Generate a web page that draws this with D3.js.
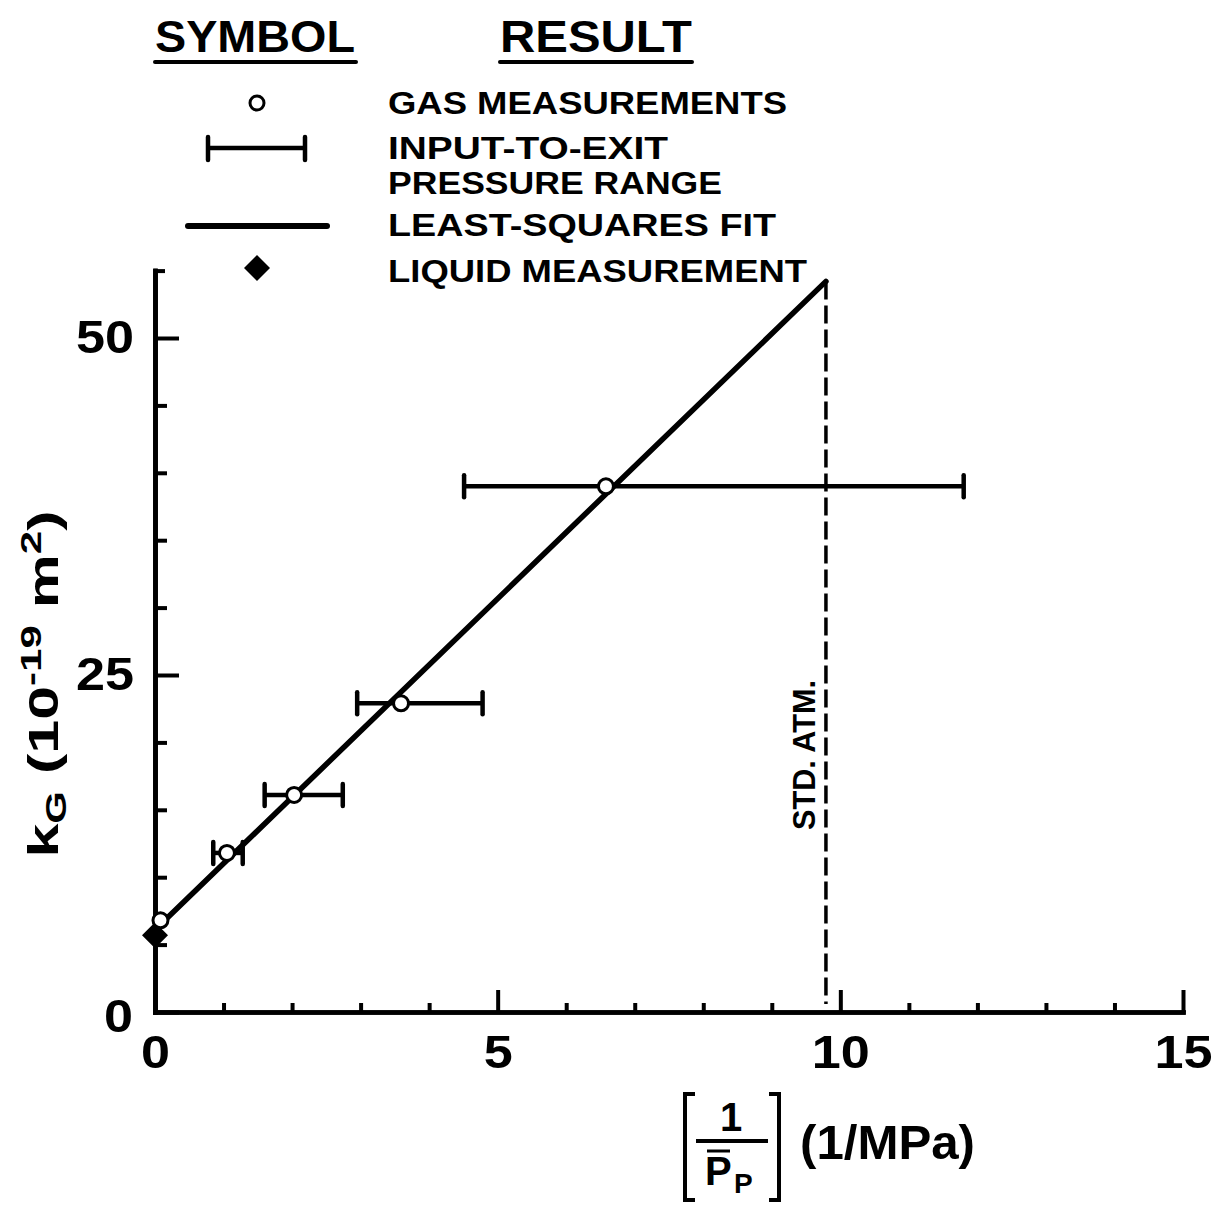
<!DOCTYPE html>
<html>
<head>
<meta charset="utf-8">
<script src="https://cdn.jsdelivr.net/npm/d3@7"></script>
<style>
  body { margin: 0; background: #fff; }
  svg text { font-family: "Liberation Sans", Arial, Helvetica, sans-serif; font-weight: bold; fill: #000; }
</style>
</head>
<body>
<div id="chart"></div>
<script>
// values
var xMajorTicks = [0, 5, 10, 15];
var xMinorTicks = [1, 2, 3, 4, 6, 7, 8, 9, 11, 12, 13, 14];
var yMajorTicks = [0, 25, 50];
var yMinorTicks = [5, 10, 15, 20, 30, 35, 40, 45];
var yTopTick = [55];

var gasX = [0.08, 1.05, 2.03, 3.59, 6.58];
var gasY = [6.8, 11.8, 16.1, 22.9, 39.0];
var rangeLo = [null, 0.85, 1.60, 2.95, 4.51];
var rangeHi = [null, 1.28, 2.74, 4.78, 11.80];

var liquidX = [0];
var liquidY = [5.7];

var fitX = [0, 9.79];
var fitY = [6.1, 54.2];

var stdAtmX = 9.79;

var legendLabels = ["GAS MEASUREMENTS", "INPUT-TO-EXIT", "PRESSURE RANGE", "LEAST-SQUARES FIT", "LIQUID MEASUREMENT"];

var width = 1214, height = 1205;
var svg = d3.select("#chart").append("svg")
	.attr("width", width)
	.attr("height", height);
svg.append("rect").attr("width", width).attr("height", height).attr("fill", "#fff");

var x = d3.scaleLinear().domain([0, 15]).range([155, 1183]);
var y = d3.scaleLinear().domain([0, 55]).range([1012, 270.6]);

// ---- axes ----
var xAxisG = svg.append("g").attr("transform", "translate(0," + y(0) + ")");
xAxisG.call(d3.axisBottom(x).tickValues(xMinorTicks).tickSize(-9).tickSizeOuter(0).tickFormat(""));
xAxisG.append("g").call(d3.axisBottom(x).tickValues(xMajorTicks).tickSize(-22).tickSizeOuter(0).tickPadding(23).tickFormat(d3.format("d")));

var yAxisG = svg.append("g").attr("transform", "translate(" + x(0) + ",0)");
yAxisG.call(d3.axisLeft(y).tickValues(yMinorTicks).tickSize(-12).tickSizeOuter(0).tickFormat(""));
yAxisG.append("g").call(d3.axisLeft(y).tickValues(yMajorTicks).tickSize(-24).tickSizeOuter(0).tickPadding(21).tickFormat(d3.format("d")));
yAxisG.append("g").call(d3.axisLeft(y).tickValues(yTopTick).tickSize(-10).tickSizeOuter(0).tickFormat(""));

svg.selectAll(".domain").attr("stroke", "#000").attr("stroke-width", 4.5).attr("stroke-linecap", "square");
svg.selectAll(".tick line").attr("stroke", "#000").attr("stroke-width", 4);
svg.selectAll(".tick text")
	.style("font-size", "46px").style("font-family", "Liberation Sans, Arial, sans-serif").style("font-weight", "bold")
	.attr("fill", "#000")
	.attr("textLength", function(d) { return String(d).length * 29; })
	.attr("lengthAdjust", "spacingAndGlyphs");
// the y-axis zero sits a bit lower and further left
yAxisG.selectAll(".tick text").filter(function(d) { return d === 0; }).attr("dy", "0.42em").attr("x", -22);

// ---- std atm dashed line ----
svg.append("line")
	.attr("x1", x(stdAtmX)).attr("x2", x(stdAtmX))
	.attr("y1", y(fitY[1])).attr("y2", y(0) - 8)
	.attr("stroke", "#000").attr("stroke-width", 3.5)
	.attr("stroke-dasharray", "18,6");

svg.append("text")
	.attr("transform", "translate(" + (x(stdAtmX) - 11) + "," + 755 + ") rotate(-90)")
	.attr("text-anchor", "middle")
	.attr("textLength", 150).attr("lengthAdjust", "spacingAndGlyphs")
	.style("font-size", "31px")
	.text("STD. ATM.");

// ---- least-squares fit ----
var fitData = d3.range(fitX.length).map(function(i) { return [fitX[i], fitY[i]]; });
svg.append("path")
	.datum(fitData)
	.attr("d", d3.line().x(function(d) { return x(d[0]); }).y(function(d) { return y(d[1]); }))
	.attr("stroke", "#000").attr("stroke-width", 5.5).attr("fill", "none").attr("stroke-linecap", "round");

// ---- pressure range bars ----
var bars = d3.range(gasX.length).filter(function(i) { return rangeLo[i] != null; });
svg.selectAll(".rangebar")
	.data(bars).enter().append("line")
	.attr("class", "rangebar")
	.attr("x1", function(i) { return x(rangeLo[i]); })
	.attr("x2", function(i) { return x(rangeHi[i]); })
	.attr("y1", function(i) { return y(gasY[i]); })
	.attr("y2", function(i) { return y(gasY[i]); })
	.attr("stroke", "#000").attr("stroke-width", 4.5);
var caps = [];
bars.forEach(function(i) { caps.push([rangeLo[i], gasY[i]]); caps.push([rangeHi[i], gasY[i]]); });
svg.selectAll(".cap")
	.data(caps).enter().append("line")
	.attr("class", "cap")
	.attr("x1", function(d) { return x(d[0]); })
	.attr("x2", function(d) { return x(d[0]); })
	.attr("y1", function(d) { return y(d[1]) - 11; })
	.attr("y2", function(d) { return y(d[1]) + 11; })
	.attr("stroke", "#000").attr("stroke-width", 4.5).attr("stroke-linecap", "round");

// ---- liquid measurement ----
svg.selectAll(".liquid")
	.data(d3.range(liquidX.length)).enter().append("path")
	.attr("class", "liquid")
	.attr("transform", function(i) { return "translate(" + x(liquidX[i]) + "," + y(liquidY[i]) + ")"; })
	.attr("d", "M0,-13L13,0L0,13L-13,0Z")
	.attr("fill", "#000");

// ---- gas measurements ----
svg.selectAll(".gas")
	.data(d3.range(gasX.length)).enter().append("circle")
	.attr("class", "gas")
	.attr("cx", function(i) { return x(gasX[i]); })
	.attr("cy", function(i) { return y(gasY[i]); })
	.attr("r", 7.5)
	.attr("fill", "#fff").attr("stroke", "#000").attr("stroke-width", 3);

// ---- legend ----
var leg = svg.append("g");
leg.append("text").attr("x", 155).attr("y", 52).attr("textLength", 200).attr("lengthAdjust", "spacingAndGlyphs")
	.style("font-size", "45px").text("SYMBOL");
leg.append("text").attr("x", 500).attr("y", 52).attr("textLength", 192).attr("lengthAdjust", "spacingAndGlyphs")
	.style("font-size", "45px").text("RESULT");
leg.append("line").attr("x1", 155).attr("x2", 356).attr("y1", 62).attr("y2", 62).attr("stroke", "#000").attr("stroke-width", 4).attr("stroke-linecap", "round");
leg.append("line").attr("x1", 500).attr("x2", 692).attr("y1", 62).attr("y2", 62).attr("stroke", "#000").attr("stroke-width", 4).attr("stroke-linecap", "round");

var labelY = [114, 159, 194, 236, 282];
var labelW = [399, 280, 334, 388, 419];
leg.selectAll(".leglabel")
	.data(legendLabels).enter().append("text")
	.attr("class", "leglabel")
	.attr("x", 388)
	.attr("y", function(d, i) { return labelY[i]; })
	.attr("textLength", function(d, i) { return labelW[i]; })
	.attr("lengthAdjust", "spacingAndGlyphs")
	.style("font-size", "32px")
	.text(function(d) { return d; });

leg.append("circle").attr("cx", 257).attr("cy", 103).attr("r", 7).attr("fill", "#fff").attr("stroke", "#000").attr("stroke-width", 3);
leg.append("line").attr("x1", 208).attr("x2", 305).attr("y1", 148).attr("y2", 148).attr("stroke", "#000").attr("stroke-width", 4.5);
leg.append("line").attr("x1", 208).attr("x2", 208).attr("y1", 137).attr("y2", 160).attr("stroke", "#000").attr("stroke-width", 4.5).attr("stroke-linecap", "round");
leg.append("line").attr("x1", 305).attr("x2", 305).attr("y1", 137).attr("y2", 160).attr("stroke", "#000").attr("stroke-width", 4.5).attr("stroke-linecap", "round");
leg.append("line").attr("x1", 188).attr("x2", 327).attr("y1", 226).attr("y2", 226).attr("stroke", "#000").attr("stroke-width", 6).attr("stroke-linecap", "round");
leg.append("path").attr("transform", "translate(257,268)").attr("d", "M0,-13L13,0L0,13L-13,0Z").attr("fill", "#000");

// ---- y axis title: kG (10^-19 m^2) ----
// stretched along the reading direction to match the wide lettering
var yt = svg.append("text")
	.attr("transform", "translate(58,684) rotate(-90) scale(1.45,1)")
	.attr("text-anchor", "middle")
	.style("font-size", "42px");
yt.append("tspan").text("k");
yt.append("tspan").attr("dy", 8).style("font-size", "29px").text("G");
yt.append("tspan").attr("dy", -8).text("   (10");
yt.append("tspan").attr("dy", -17).style("font-size", "29px").text("-19");
yt.append("tspan").attr("dy", 17).text(" m");
yt.append("tspan").attr("dy", -17).style("font-size", "29px").text("2");
yt.append("tspan").attr("dy", 17).text(")");

// ---- x axis title: [1 / Pp] (1/MPa) ----
var xt = svg.append("g");
xt.append("path").attr("d", "M695,1094H685V1200H695").attr("fill", "none").attr("stroke", "#000").attr("stroke-width", 4);
xt.append("path").attr("d", "M769,1094H779V1200H769").attr("fill", "none").attr("stroke", "#000").attr("stroke-width", 4);
xt.append("text").attr("x", 731).attr("y", 1131).attr("text-anchor", "middle").style("font-size", "40px").text("1");
xt.append("line").attr("x1", 696).attr("x2", 768).attr("y1", 1141).attr("y2", 1141).attr("stroke", "#000").attr("stroke-width", 4);
xt.append("line").attr("x1", 707).attr("x2", 730).attr("y1", 1151).attr("y2", 1151).attr("stroke", "#000").attr("stroke-width", 3);
xt.append("text").attr("x", 705).attr("y", 1185).style("font-size", "40px").text("P");
xt.append("text").attr("x", 734).attr("y", 1193).style("font-size", "28px").text("P");
xt.append("text").attr("x", 800).attr("y", 1159).attr("textLength", 175).attr("lengthAdjust", "spacingAndGlyphs")
	.style("font-size", "48px").text("(1/MPa)");
</script>
</body>
</html>
